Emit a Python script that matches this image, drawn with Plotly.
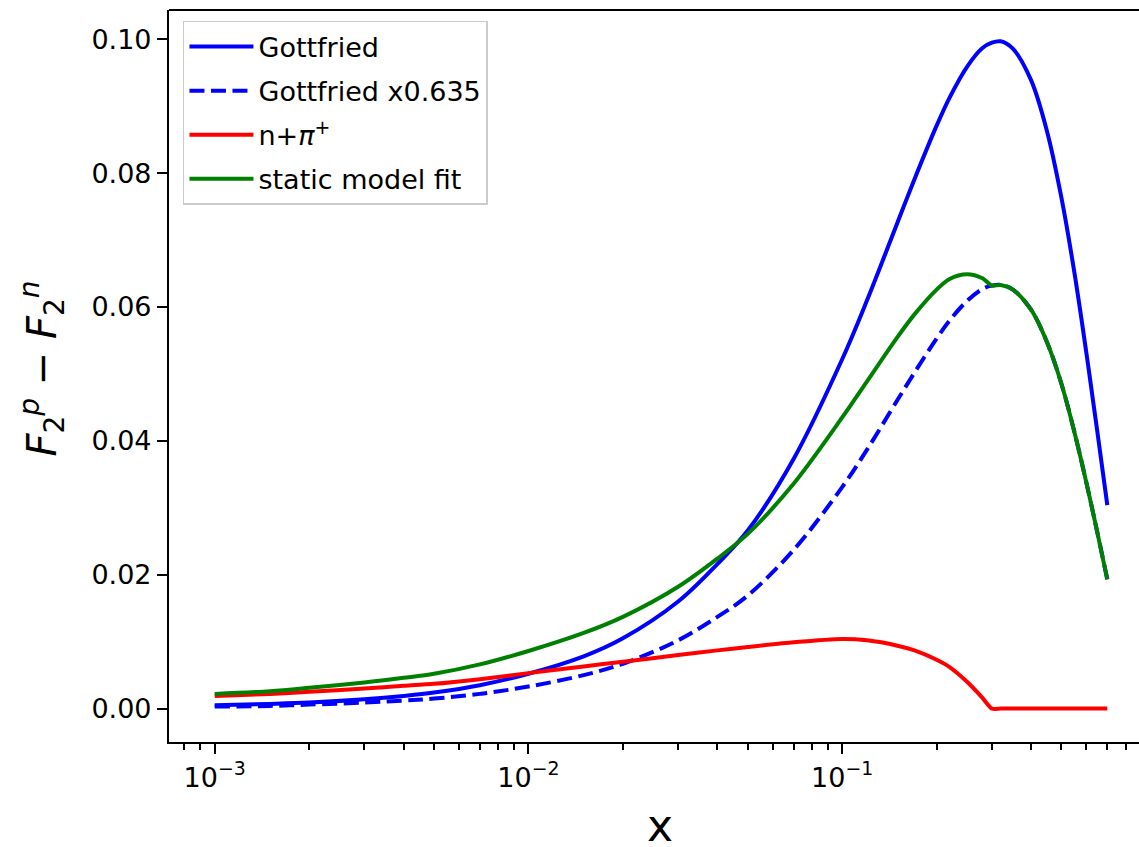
import plotly.graph_objects as go

# ---- data ----
x_vals = [0.001, 0.0015, 0.002, 0.003, 0.004, 0.005, 0.007, 0.01, 0.015, 0.02,
          0.03, 0.04, 0.05, 0.07, 0.1, 0.12, 0.15, 0.17, 0.2, 0.22, 0.25, 0.28,
          0.3, 0.32, 0.35, 0.4, 0.45, 0.5, 0.55, 0.6, 0.65, 0.7]

gottfried = [0.0005, 0.0007, 0.0009, 0.0014, 0.0019, 0.0024, 0.0035, 0.0052,
             0.0078, 0.0105, 0.0160, 0.0216, 0.0266, 0.0373, 0.0522, 0.0610,
             0.0726, 0.0791, 0.0871, 0.0913, 0.0959, 0.0987, 0.0995, 0.0997,
             0.0986, 0.0939, 0.0862, 0.0763, 0.0651, 0.0532, 0.0415, 0.0304]

gottfried_scaled = [0.0003, 0.0004, 0.0006, 0.0009, 0.0012, 0.0015, 0.0022,
                    0.0033, 0.0050, 0.0067, 0.0102, 0.0137, 0.0169, 0.0237,
                    0.0331, 0.0387, 0.0461, 0.0502, 0.0553, 0.0580, 0.0609,
                    0.0627, 0.0632, 0.0633, 0.0626, 0.0596, 0.0547, 0.0485,
                    0.0413, 0.0338, 0.0264, 0.0193]

n_pi = [0.0019, 0.0022, 0.0025, 0.0030, 0.0034, 0.0037, 0.0044, 0.0053,
        0.0063, 0.0070, 0.0080, 0.0087, 0.0092, 0.0099, 0.0104, 0.0102,
        0.0094, 0.0087, 0.0073, 0.0062, 0.0040, 0.0016, 0.0, 0.0, 0.0, 0.0,
        0.0, 0.0, 0.0, 0.0, 0.0, 0.0]

static_fit = [0.0022, 0.0026, 0.0031, 0.0039, 0.0046, 0.0052, 0.0066, 0.0086,
              0.0113, 0.0137, 0.0182, 0.0224, 0.0261, 0.0336, 0.0435, 0.0489,
              0.0555, 0.0589, 0.0626, 0.0642, 0.0649, 0.0643, 0.0632, 0.0633,
              0.0626, 0.0596, 0.0547, 0.0485, 0.0413, 0.0338, 0.0264, 0.0193]

x_tick_vals = [0.001, 0.01, 0.1]
x_tick_text = ["10<sup>\u22123</sup>", "10<sup>\u22122</sup>", "10<sup>\u22121</sup>"]
x_minor_vals = [0.0008, 0.0009] + [m * 1e-3 for m in range(2, 10)] + \
               [m * 1e-2 for m in range(2, 10)] + [m * 1e-1 for m in range(2, 10)]
y_tick_vals = [0.0, 0.02, 0.04, 0.06, 0.08, 0.10]
y_tick_text = ["0.00", "0.02", "0.04", "0.06", "0.08", "0.10"]

FONT = "DejaVu Sans"
FS = 27
LW = 4.0

fig = go.Figure()
fig.add_trace(go.Scatter(x=x_vals, y=gottfried, mode="lines", name="Gottfried",
                         legendgroup="a",
                         line=dict(color="#0000ff", width=LW, shape="spline", smoothing=1.0)))
fig.add_trace(go.Scatter(x=x_vals, y=gottfried_scaled, mode="lines", name="Gottfried x0.635",
                         legendgroup="b",
                         line=dict(color="#0000ff", width=LW, dash="15px,6.5px",
                                   shape="spline", smoothing=1.0)))
fig.add_trace(go.Scatter(x=x_vals, y=n_pi, mode="lines", name="n+<i>\u03c0</i><sup>+</sup>",
                         legendgroup="c",
                         line=dict(color="#ff0000", width=LW, shape="spline", smoothing=0.6)))
fig.add_trace(go.Scatter(x=x_vals, y=static_fit, mode="lines", name="static model fit",
                         legendgroup="d",
                         line=dict(color="#008000", width=LW, shape="spline", smoothing=0.9)))

fig.update_layout(
    width=1139, height=847,
    margin=dict(l=169, r=0, t=10, b=105, pad=0),
    paper_bgcolor="white", plot_bgcolor="white",
    font=dict(family=FONT, size=FS, color="black"),
    showlegend=True,
    legend=dict(x=0.0144, y=0.985, xanchor="left", yanchor="top",
                bgcolor="rgba(255,255,255,0.8)", bordercolor="#cccccc", borderwidth=1.5,
                font=dict(family=FONT, size=FS, color="black"),
                tracegroupgap=6, itemwidth=64),
    xaxis=dict(type="log", range=[-3.1457, -0.0539],
               showline=True, linecolor="black", linewidth=2.2,
               ticks="outside", ticklen=10, tickwidth=2.2, tickcolor="black",
               tickmode="array", tickvals=x_tick_vals, ticktext=x_tick_text,
               tickfont=dict(family=FONT, size=FS, color="black"),
               showgrid=False, zeroline=False,
               minor=dict(tickmode="array", tickvals=x_minor_vals, ticks="outside",
                          ticklen=5.5, tickwidth=1.6, tickcolor="black", showgrid=False)),
    yaxis=dict(range=[-0.00499, 0.10438],
               showline=True, linecolor="black", linewidth=2.2,
               ticks="outside", ticklen=10, tickwidth=2.2, tickcolor="black",
               tickmode="array", tickvals=y_tick_vals, ticktext=y_tick_text,
               tickfont=dict(family=FONT, size=FS, color="black"),
               showgrid=False, zeroline=False),
    shapes=[dict(type="line", xref="paper", yref="paper", x0=0, x1=1, y0=1, y1=1,
                 line=dict(color="black", width=2.2))],
    annotations=[
        dict(text="<i>F</i><sub>2</sub><sup><i>p</i></sup> \u2212 <i>F</i><sub>2</sub><sup><i>n</i></sup>",
             xref="paper", yref="paper", x=-0.131, y=0.51, textangle=-90,
             showarrow=False, xanchor="center", yanchor="middle",
             font=dict(family=FONT, size=40, color="black")),
        dict(text="x", xref="paper", yref="paper", x=0.506, y=-0.113,
             showarrow=False, xanchor="center", yanchor="middle",
             height=40, valign="middle",
             font=dict(family=FONT, size=44, color="black")),
    ],
)

fig.write_html("out.html", config={"displayModeBar": False},
               post_script="document.body.style.margin='0px';")
